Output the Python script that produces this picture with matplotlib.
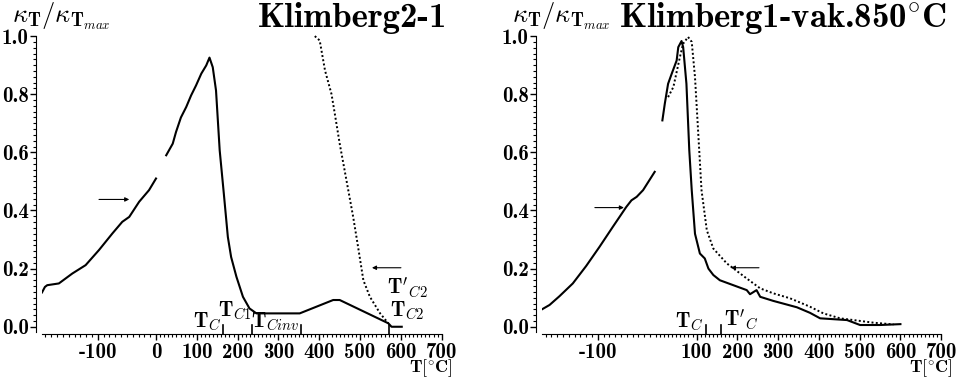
import numpy as np
import matplotlib
matplotlib.use("Agg")
import matplotlib.pyplot as plt

plt.rcParams['font.family'] = ['cmb10', 'DejaVu Serif']
plt.rcParams['mathtext.fontset'] = 'cm'
plt.rcParams['axes.unicode_minus'] = False

# Klimberg2-1: heating (solid, two pieces) and cooling (dotted)
k2_heat_a_x = [-196, -191, -187, -167, -144, -121, -98, -75, -58, -46, -29, -12, 0]
k2_heat_a_y = [0.118, 0.137, 0.143, 0.149, 0.183, 0.212, 0.264, 0.321, 0.361, 0.378, 0.430, 0.470, 0.510]
k2_heat_b_x = [25, 41, 49, 61, 74, 86, 98, 111, 123, 131, 139, 147, 156, 166, 176,
               184, 197, 213, 229, 246, 352, 434, 450, 569, 577, 602]
k2_heat_b_y = [0.590, 0.630, 0.670, 0.720, 0.756, 0.796, 0.830, 0.871, 0.899, 0.926, 0.893,
               0.813, 0.607, 0.460, 0.309, 0.240, 0.172, 0.103, 0.063, 0.046, 0.046,
               0.092, 0.092, 0.012, 0.000, 0.000]
k2_cool_x = [389, 401, 414, 430, 438, 450, 471, 483, 495, 508, 524, 549, 569]
k2_cool_y = [1.000, 0.985, 0.882, 0.800, 0.733, 0.630, 0.470, 0.378, 0.275, 0.160, 0.103,
             0.046, 0.012]

# Klimberg1-vak.850C
k1_heat_a_x = [-196, -183, -166, -143, -120, -97, -74, -51, -42, -33, -22, -2]
k1_heat_a_y = [0.060, 0.075, 0.105, 0.149, 0.209, 0.275, 0.344, 0.412, 0.435, 0.447, 0.470, 0.533]
k1_heat_b_x = [16, 22, 30, 39, 51, 55, 63, 67, 75, 82, 88, 96, 108, 120, 129, 141, 157,
               190, 223, 231, 247, 256, 288, 346, 378, 403, 469, 501, 550, 600]
k1_heat_b_y = [0.710, 0.768, 0.836, 0.871, 0.916, 0.962, 0.983, 0.962, 0.836, 0.607, 0.470,
               0.320, 0.252, 0.235, 0.200, 0.178, 0.160, 0.143, 0.126, 0.112, 0.126, 0.103,
               0.089, 0.067, 0.048, 0.029, 0.023, 0.006, 0.006, 0.009]
k1_cool_x = [30, 43, 59, 67, 79, 88, 96, 104, 112, 125, 141, 174, 223, 256, 288, 329, 378,
             411, 452, 534, 583]
k1_cool_y = [0.790, 0.825, 0.928, 0.974, 0.997, 0.980, 0.859, 0.665, 0.470, 0.332, 0.269,
             0.218, 0.166, 0.132, 0.115, 0.098, 0.069, 0.046, 0.029, 0.014, 0.008]

y_ticks = [0.0, 0.2, 0.4, 0.6, 0.8, 1.0]
left_xticks = [-100, 0, 100, 200, 300, 400, 500, 600, 700]
right_xticks = [-100, 100, 200, 300, 400, 500, 600, 700]

# the negative side of the temperature axis is stretched
STRETCH = 1.425


def fwd(x):
    x = np.asarray(x, dtype=float)
    return np.where(x < 0, x * STRETCH, x)


def inv(x):
    x = np.asarray(x, dtype=float)
    return np.where(x < 0, x / STRETCH, x)


def setup_axis(ax, xticks):
    ax.set_xscale('function', functions=(fwd, inv))
    ax.set_xlim(-196, 700)
    ax.set_ylim(-0.025, 1.0)
    ax.spines['top'].set_visible(False)
    ax.spines['right'].set_visible(False)
    ax.spines['left'].set_position(('outward', 4))
    ax.spines['left'].set_bounds(-0.017, 1.0)
    ax.set_xticks(xticks)
    ax.set_xticks(np.arange(-190, 701, 10), minor=True)
    ax.set_yticks(y_ticks)
    ax.set_yticks(np.arange(0, 1.001, 0.02), minor=True)
    ax.set_xticklabels([str(t) for t in xticks])
    ax.set_yticklabels([f'{t:.1f}' for t in y_ticks])
    ax.tick_params(axis='both', which='major', direction='out', length=4, width=1,
                   labelsize=15, pad=1.5)
    ax.tick_params(axis='both', which='minor', direction='out', length=2.5, width=0.8)
    ax.tick_params(axis='x', which='major', pad=2.5)
    ax.annotate(r'$\mathbf{T}[^{\circ}\mathbf{C}]$', xy=(1, 0), xycoords='axes fraction',
                xytext=(8, -17), textcoords='offset points', ha='right', va='top',
                fontsize=13)


def arrow(ax, tail, head):
    ax.annotate('', xy=head, xytext=tail,
                arrowprops=dict(arrowstyle='-|>', lw=0.8, color='k', mutation_scale=6,
                                shrinkA=0, shrinkB=0))


def tmark(ax, x):
    ax.plot([x, x], [-0.025, 0.006], color='k', lw=1.2, clip_on=False)


fig = plt.figure(figsize=(9.6, 3.8), dpi=100)
ax1 = fig.add_axes([0.04375, 0.121, 0.4164, 0.784])
ax2 = fig.add_axes([0.5646, 0.121, 0.4158, 0.784])

for ax in (ax1, ax2):
    setup_axis(ax, left_xticks if ax is ax1 else right_xticks)

# left panel
ax1.plot(k2_heat_a_x, k2_heat_a_y, color='k', lw=1.5)
ax1.plot(k2_heat_b_x, k2_heat_b_y, color='k', lw=1.5)
ax1.plot(k2_cool_x, k2_cool_y, color='k', lw=1.4, ls=(0, (1, 1.2)), clip_on=False)
arrow(ax1, (-98, 0.438), (-46, 0.438))
arrow(ax1, (600, 0.203), (529, 0.203))
for x in (165, 236, 356, 572):
    tmark(ax1, x)
mfs = 15
ax1.text(160, -0.02, r'$\mathbf{T}_C$', ha='right', va='bottom', fontsize=mfs)
ax1.text(236, 0.016, r'$\mathbf{T}_{C1}$', ha='right', va='bottom', fontsize=mfs)
ax1.text(352, -0.02, r'$\mathbf{T}_{Cinv}$', ha='right', va='bottom', fontsize=mfs)
ax1.text(574, 0.016, r'$\mathbf{T}_{C2}$', ha='left', va='bottom', fontsize=mfs)
ax1.text(566, 0.09, r"$\mathbf{T}'_{C2}$", ha='left', va='bottom', fontsize=mfs)

# right panel
ax2.plot(k1_heat_a_x, k1_heat_a_y, color='k', lw=1.5)
ax2.plot(k1_heat_b_x, k1_heat_b_y, color='k', lw=1.5)
ax2.plot(k1_cool_x, k1_cool_y, color='k', lw=1.4, ls=(0, (1, 1.2)), clip_on=False)
arrow(ax2, (-105, 0.41), (-55, 0.41))
arrow(ax2, (253, 0.203), (184, 0.203))
for x in (122, 160):
    tmark(ax2, x)
ax2.text(116, -0.02, r'$\mathbf{T}_C$', ha='right', va='bottom', fontsize=mfs)
ax2.text(166, -0.02, r"$\mathbf{T}'_C$", ha='left', va='bottom', fontsize=mfs)

# headers
ylab = r'$\kappa_\mathbf{T}/\kappa_{\mathbf{T}_{max}}$'
fig.text(12 / 960, 1 - 22 / 380, ylab, fontsize=19, ha='left', va='baseline')
fig.text(512 / 960, 1 - 22 / 380, ylab, fontsize=19, ha='left', va='baseline')
fig.text(447 / 960, 1 - 27 / 380, 'Klimberg2-1', fontsize=25, ha='right', va='baseline')
fig.text(947 / 960, 1 - 27 / 380, r'Klimberg1-vak.850$^{\circ}$C', fontsize=25,
         ha='right', va='baseline')

fig.savefig('out.png', dpi=100)
